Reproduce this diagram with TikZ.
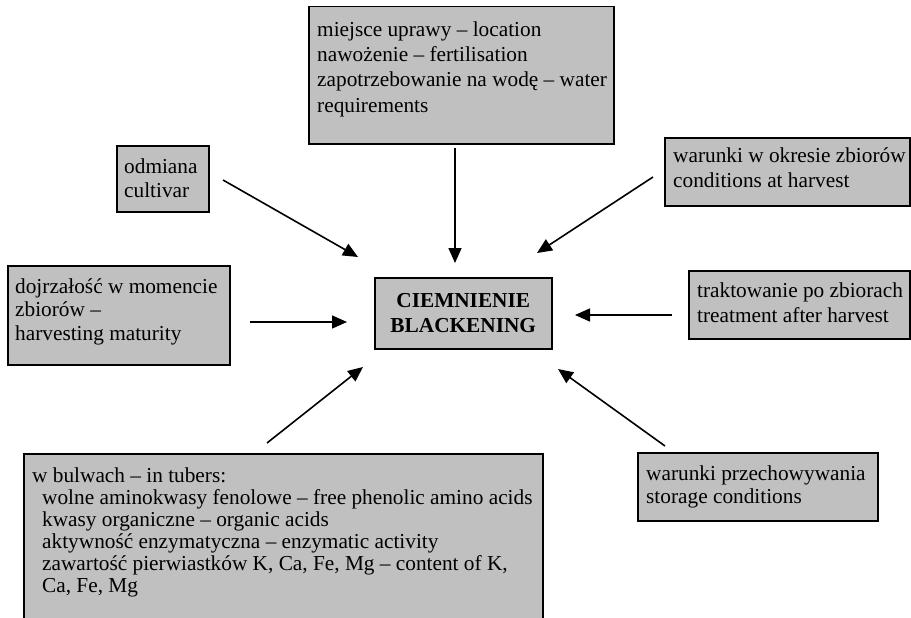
\documentclass[tikz,border=0pt]{standalone}
\usepackage{fontspec}
\setmainfont{Liberation Serif}
\usetikzlibrary{arrows.meta}
\definecolor{boxgray}{HTML}{C0C0C0}
\tikzset{
  box/.style={draw=black, line width=1.5pt, fill=boxgray, inner sep=0pt, anchor=north west},
  txt/.style={inner sep=0pt, anchor=base west, align=left},
  arr/.style={line width=1.6pt, -{Triangle[length=15pt,width=13pt]}},
}
\begin{document}
\begin{tikzpicture}[x=1pt, y=-1pt]
\useasboundingbox (0,0) rectangle (911,618);
\clip (0,0) rectangle (911,618);
\fill[white] (0,0) rectangle (911,618);

% boxes
\node[box, minimum width=305pt, minimum height=137pt] (topbox) at (308,6) {};
\node[box, minimum width=92pt, minimum height=66pt] (odm) at (116,145) {};
\node[box, minimum width=245pt, minimum height=68pt] (cond) at (664,137) {};
\node[box, minimum width=222pt, minimum height=99pt] (dojr) at (7,265) {};
\node[box, minimum width=177pt, minimum height=71pt] (center) at (374,277) {};
\node[box, minimum width=221pt, minimum height=68pt] (treat) at (688,270) {};
\node[box, minimum width=240pt, minimum height=68pt] (stor) at (637,452) {};
\node[box, minimum width=519pt, minimum height=190pt] (tub) at (23,453) {};

% texts (anchor at baseline of the last line)
\node[txt, font=\fontsize{21.3}{25.3}\selectfont] (toptxt) at (317,112)
  {miejsce uprawy – location\\nawożenie – fertilisation\\zapotrzebowanie na wodę – water\\requirements};
\node[txt, font=\fontsize{21.3}{24}\selectfont] (odmtxt) at (124,197) {odmiana\\cultivar};
\node[txt, font=\fontsize{21.3}{25}\selectfont] (condtxt) at (673,187) {warunki w okresie zbiorów\\conditions at harvest};
\node[txt, font=\fontsize{21.3}{23.5}\selectfont] (dojrtxt) at (15,340) {dojrzałość w momencie\\zbiorów –\\harvesting maturity};
\node[align=center, inner sep=0pt, font=\fontsize{21.3}{25}\selectfont\bfseries] (centertxt) at (center.center) {CIEMNIENIE\\BLACKENING};
\node[txt, font=\fontsize{21.3}{25}\selectfont] (treattxt) at (697,322) {traktowanie po zbiorach\\treatment after harvest};
\node[txt, font=\fontsize{21.3}{23}\selectfont] (stortxt) at (646,503) {warunki przechowywania\\storage conditions};
\node[txt, font=\fontsize{21.3}{22}\selectfont] (tubtxt) at (32,592)
  {w bulwach – in tubers:\\
   \hspace*{10pt}wolne aminokwasy fenolowe – free phenolic amino acids\\
   \hspace*{10pt}kwasy organiczne – organic acids\\
   \hspace*{10pt}aktywność enzymatyczna – enzymatic activity\\
   \hspace*{10pt}zawartość pierwiastków K, Ca, Fe, Mg – content of K,\\
   \hspace*{10pt}Ca, Fe, Mg};

% arrow ends
\coordinate (aOs) at (223,180); \coordinate (aOe) at (358,257);
\coordinate (aTs) at (455,148); \coordinate (aTe) at (455,263);
\coordinate (aCs) at (653,177); \coordinate (aCe) at (537,253);
\coordinate (aDs) at (250,322); \coordinate (aDe) at (347,322);
\coordinate (aRs) at (672,315); \coordinate (aRe) at (575,315);
\coordinate (aBs) at (267,443); \coordinate (aBe) at (363,367);
\coordinate (aSs) at (665,446); \coordinate (aSe) at (558,369);

\draw[arr] (aOs) -- (aOe);
\draw[arr] (aTs) -- (aTe);
\draw[arr] (aCs) -- (aCe);
\draw[arr] (aDs) -- (aDe);
\draw[arr] (aRs) -- (aRe);
\draw[arr] (aBs) -- (aBe);
\draw[arr] (aSs) -- (aSe);
\end{tikzpicture}
\end{document}
